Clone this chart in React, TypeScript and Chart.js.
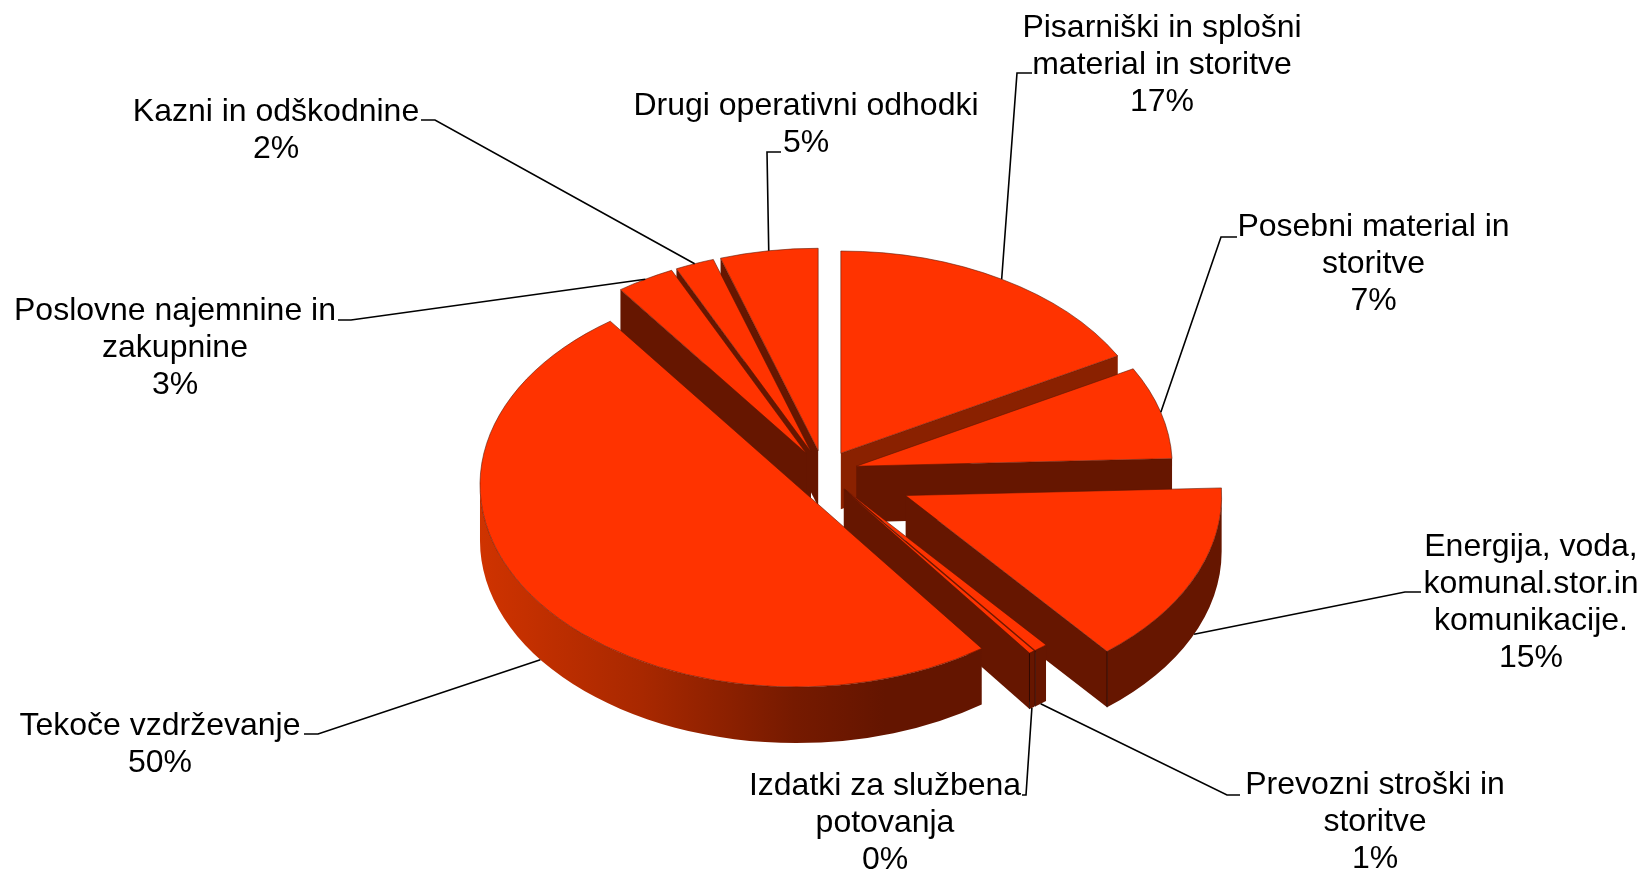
import React, { useEffect, useRef } from "react";
import { Chart, registerables } from "chart.js";

Chart.register(...registerables);

// ---- data ----
const labelLines: string[][] = [
  ["Pisarniški in splošni", "material in storitve"],
  ["Posebni material in", "storitve"],
  ["Energija, voda,", "komunal.stor.in", "komunikacije."],
  ["Prevozni stroški in", "storitve"],
  ["Izdatki za službena", "potovanja"],
  ["Tekoče vzdrževanje"],
  ["Poslovne najemnine in", "zakupnine"],
  ["Kazni in odškodnine"],
  ["Drugi operativni odhodki"],
];
const shares: number[] = [17, 7.4, 14.6, 0.7, 0.3, 50, 3, 2, 5];

// ---- look and layout ----
const WIDTH = 1644;
const HEIGHT = 874;
const RADIUS = 316;
const SQUASH = 0.64;
const DEPTH = 56;
const TOP_COLOR = "#ff3300";
const explodePx = [34, 34, 90, 34, 34, 34, 34, 34, 34];
const wallColors = ["#8a2100", "#661600", "#661600", "#661600", "#661600", "#661600", "#661600", "#661600", "#661600"];
const wallOrder = [8, 7, 6, 0, 1, 2, 3, 4, 5];
// text centre x, first line middle y, elbow point and where the line starts beside the text
const labelLayout = [
  { cx: 1162, y: 28, start: [1032, 73], elbow: [1017, 73] },
  { cx: 1373.5, y: 227, start: [1237, 237], elbow: [1221, 237] },
  { cx: 1531, y: 547, start: [1421, 592], elbow: [1405, 592] },
  { cx: 1375, y: 785, start: [1240, 795], elbow: [1227, 795] },
  { cx: 885, y: 786, start: [1022, 795], elbow: [1026, 795] },
  { cx: 160, y: 726, start: [304, 734], elbow: [318, 734] },
  { cx: 175, y: 311, start: [338, 320], elbow: [351, 320] },
  { cx: 276, y: 112, start: [421, 120], elbow: [435, 120] },
  { cx: 806, y: 106, start: [781, 152], elbow: [767, 152] },
];
const LINE_HEIGHT = 37;
const FONT = '32px "Liberation Sans", Arial, sans-serif';

const pie3d = {
  id: "pie3d",
  afterDatasetsUpdate(chart: any) {
    chart.getDatasetMeta(0).data.forEach((arc: any, i: number) => {
      const mid = (arc.startAngle + arc.endAngle) / 2;
      arc.x += Math.cos(mid) * explodePx[i];
      arc.y += Math.sin(mid) * explodePx[i];
    });
  },
  beforeDatasetsDraw(chart: any) {
    const ctx = chart.ctx;
    const cy = (chart.chartArea.top + chart.chartArea.bottom) / 2;
    const arcs = chart.getDatasetMeta(0).data;
    const sideFade = ctx.createLinearGradient(481, 0, 986, 0);
    sideFade.addColorStop(0, "#cf3300");
    sideFade.addColorStop(0.32, "#a82800");
    sideFade.addColorStop(0.62, "#761a00");
    sideFade.addColorStop(0.8, "#641500");
    sideFade.addColorStop(1, "#641500");
    wallOrder.forEach((i) => {
      const arc = arcs[i];
      const sx = arc.x;
      const sy = cy + (arc.y - cy) * SQUASH;
      const r = arc.outerRadius;
      const ry = r * SQUASH;
      ctx.save();
      ctx.fillStyle = wallColors[i];
      const faces: [number, boolean][] = [
        [arc.startAngle, -Math.cos(arc.startAngle) > 0.001],
        [arc.endAngle, Math.cos(arc.endAngle) > 0.001],
      ];
      faces.forEach(([a, visible]) => {
        if (!visible) return;
        const px = sx + r * Math.cos(a);
        const py = sy + ry * Math.sin(a);
        ctx.beginPath();
        ctx.moveTo(sx, sy);
        ctx.lineTo(px, py);
        ctx.lineTo(px, py + DEPTH);
        ctx.lineTo(sx, sy + DEPTH);
        ctx.closePath();
        ctx.fill();
      });
      const from = Math.max(arc.startAngle, 0);
      const to = Math.min(arc.endAngle, Math.PI);
      if (to > from) {
        ctx.fillStyle = i === 5 ? sideFade : wallColors[i];
        ctx.beginPath();
        ctx.ellipse(sx, sy, r, ry, 0, from, to);
        ctx.ellipse(sx, sy + DEPTH, r, ry, 0, to, from, true);
        ctx.closePath();
        ctx.fill();
      }
      // dark corner line where a radial wall meets the rounded side
      faces.forEach(([a, visible]) => {
        if (!visible || Math.sin(a) <= 0) return;
        const px = sx + r * Math.cos(a);
        const py = sy + ry * Math.sin(a);
        ctx.strokeStyle = "rgba(30,5,0,0.75)";
        ctx.lineWidth = 1;
        ctx.beginPath();
        ctx.moveTo(px, py);
        ctx.lineTo(px, py + DEPTH);
        ctx.stroke();
      });
      ctx.restore();
    });
    ctx.save();
    ctx.translate(0, cy);
    ctx.scale(1, SQUASH);
    ctx.translate(0, -cy);
  },
  afterDatasetsDraw(chart: any) {
    const ctx = chart.ctx;
    ctx.restore();
    const cy = (chart.chartArea.top + chart.chartArea.bottom) / 2;
    const arcs = chart.getDatasetMeta(0).data;
    ctx.save();
    ctx.fillStyle = "#000";
    ctx.strokeStyle = "#000";
    ctx.lineWidth = 1.6;
    ctx.font = FONT;
    ctx.textAlign = "center";
    ctx.textBaseline = "middle";
    labelLayout.forEach((l, i) => {
      const arc = arcs[i];
      const mid = (arc.startAngle + arc.endAngle) / 2;
      const sy = cy + (arc.y - cy) * SQUASH;
      const ax = arc.x + arc.outerRadius * Math.cos(mid);
      const ay = sy + arc.outerRadius * SQUASH * Math.sin(mid) + (Math.sin(mid) > 0 ? DEPTH : 0);
      ctx.beginPath();
      ctx.moveTo(l.start[0], l.start[1]);
      ctx.lineTo(l.elbow[0], l.elbow[1]);
      ctx.lineTo(ax, ay);
      ctx.stroke();
      const lines = [...labelLines[i], `${Math.round(shares[i])}%`];
      lines.forEach((t, k) => ctx.fillText(t, l.cx, l.y + k * LINE_HEIGHT));
    });
    ctx.restore();
  },
};

export default function App() {
  const ref = useRef<HTMLCanvasElement>(null);
  useEffect(() => {
    const chart = new Chart(ref.current as HTMLCanvasElement, {
      type: "pie",
      data: {
        labels: labelLines.map((l) => l.join(" ")),
        datasets: [
          {
            data: shares,
            backgroundColor: TOP_COLOR,
            borderColor: "#5a1500",
            borderWidth: 0.7,
            radius: RADIUS,
            clip: false,
          } as any,
        ],
      },
      options: {
        responsive: false,
        animation: false,
        layout: { padding: { left: 3, top: 70, right: 0, bottom: 0 } },
        plugins: { legend: { display: false }, tooltip: { enabled: false } },
      },
      plugins: [pie3d],
    });
    return () => chart.destroy();
  }, []);
  return (
    <canvas
      ref={ref}
      width={WIDTH}
      height={HEIGHT}
      style={{ position: "fixed", left: 0, top: 0, width: WIDTH, height: HEIGHT, background: "#fff" }}
    />
  );
}
